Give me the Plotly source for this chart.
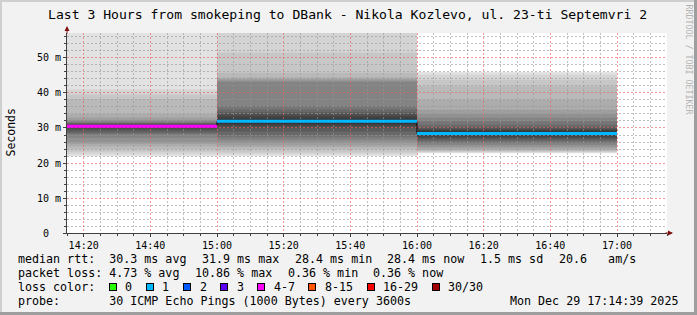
import plotly.graph_objects as go

# ---------------- data ----------------
seg_start = ["2025-12-29 14:00", "2025-12-29 15:00", "2025-12-29 16:00"]
seg_last_end = "2025-12-29 17:00"
seg_median = [30.5, 31.9, 28.4]
seg_loss_label = ["4-7", "1", "1"]

# sorted smoke ping values (ms) for each hourly step
seg1_pings = [21.9, 22.5, 23.2, 24.0, 24.8, 25.5, 26.0, 27.2, 28.2, 28.5,
              29.0, 29.6, 30.0, 30.3, 30.7, 30.85, 31.0, 31.2, 31.4, 31.6,
              31.9, 32.3, 33.0, 34.0, 38.2, 39.6, 41.0, 62.0]
seg2_pings = [22.0, 22.5, 23.0, 23.9, 24.5, 25.0, 25.8, 26.5, 27.2, 28.0,
              29.0, 30.1, 30.8, 31.3, 32.5, 33.3, 33.9, 34.5, 35.3, 36.3,
              43.2, 43.6, 44.0, 44.4, 45.8, 51.5, 60.0, 70.0]
seg3_pings = [22.8, 23.0, 23.2, 23.5, 23.8, 24.2, 24.7, 25.2, 25.7, 26.2,
              26.7, 27.1, 27.6, 28.2, 29.0, 29.4, 29.8, 30.3, 30.9, 31.9,
              32.9, 34.0, 35.2, 38.1, 41.9, 43.8, 45.2, 46.0]

loss_labels = ["0", "1", "2", "3", "4-7", "8-15", "16-29", "30/30"]
loss_colors = ["#26ff00", "#00b8ff", "#0059ff", "#5e00ff",
               "#ff00ff", "#ff5500", "#ff0000", "#a10000"]

y_tick_vals = [0, 10, 20, 30, 40, 50]
y_tick_text = ["0\u00a0\u00a0", "10 m", "20 m", "30 m", "40 m", "50 m"]

x_range = ["2025-12-29 14:15", "2025-12-29 17:15"]
y_range = [0, 57.14]

title_text = "Last 3 Hours from smokeping to DBank - Nikola Kozlevo, ul. 23-ti Septemvri 2"
legend_rtt = ["median rtt:  30.3 ms avg", "31.9 ms max", "28.4 ms min",
              "28.4 ms now", "1.5 ms sd", "20.6   am/s"]
legend_loss = ["packet loss: 4.73 % avg", "10.86 % max", "0.36 % min", "0.36 % now"]
legend_color_title = "loss color:"
probe_text = "probe:       30 ICMP Echo Pings (1000 Bytes) every 3600s"
stamp_text = "Mon Dec 29 17:14:39 2025"
watermark = "RRDTOOL / TOBI OETIKER"

# ---------------- geometry / style ----------------
W, H = 697, 315
ML, MR, MT, MB = 67, 30, 33, 82
PW, PH = W - ML - MR, H - MT - MB
MONO = "DejaVu Sans Mono"
LEG_FS = 11.66
CW = 0.602 * LEG_FS
GAP = 15.5
GRID = "rgba(150,150,150,0.6)"
MGRID = "rgba(230,100,100,0.65)"
GDASH = "2px,2px"
AXIS = "#404040"
ARROW = "#801010"


def PX(px):
    return (px - ML) / PW


def PY(py):
    return (MT + PH - py) / PH


def nb(s):
    return s.replace(" ", "\u00a0")


fig = go.Figure()

# smoke bands: outer (light) to inner (dark)
seg_pings = [seg1_pings, seg2_pings, seg3_pings]
n = len(seg1_pings)
half = n // 2
for i in range(half):
    g = int(190 / half * (half - (i + 1))) + 50
    bases = [p[i] for p in seg_pings]
    heights = [p[n - 1 - i] - p[i] for p in seg_pings]
    fig.add_trace(go.Bar(
        x=seg_start, y=heights, base=bases, width=[3600000] * 3, offset=0,
        marker=dict(color=f"rgb({g},{g},{g})", line=dict(width=0)),
        xaxis="x", yaxis="y", showlegend=False, hoverinfo="skip"))

# median line (on top subplot, above grid)
ends = seg_start[1:] + [seg_last_end]
fig.add_trace(go.Scatter(
    x=seg_start + [seg_last_end], y=seg_median + [seg_median[-1]],
    mode="lines", line=dict(color="#000000", width=1, shape="hv"),
    xaxis="x2", yaxis="y2", showlegend=False, hoverinfo="skip"))
for s in range(len(seg_start)):
    col = loss_colors[loss_labels.index(seg_loss_label[s])]
    fig.add_trace(go.Scatter(
        x=[seg_start[s], ends[s]], y=[seg_median[s]] * 2, mode="lines",
        line=dict(color=col, width=3), xaxis="x2", yaxis="y2",
        showlegend=False, hoverinfo="skip"))

tickfont = dict(family=MONO, size=10, color="#000000")

fig.update_layout(
    width=W, height=H,
    margin=dict(l=ML, r=MR, t=MT, b=MB, pad=0),
    paper_bgcolor="#f2f2f2", plot_bgcolor="rgba(0,0,0,0)",
    barmode="overlay", showlegend=False,
    xaxis=dict(type="date", range=x_range, domain=[0, 1], anchor="y",
               showgrid=False, zeroline=False, showline=True, linecolor=AXIS, linewidth=1,
               ticks="outside", ticklen=3, tickcolor=AXIS, tickwidth=1,
               dtick=1200000, tick0="2025-12-29 14:20", tickformat="%H:%M",
               tickfont=tickfont,
               minor=dict(dtick=300000, tick0="2025-12-29 14:15", ticks="outside",
                          ticklen=2, tickcolor=AXIS, showgrid=False)),
    yaxis=dict(range=y_range, domain=[0, 1], anchor="x",
               showgrid=False, zeroline=False, showline=True, linecolor=AXIS, linewidth=1,
               ticks="outside", ticklen=3, tickcolor=AXIS, tickwidth=1,
               tickvals=y_tick_vals, ticktext=y_tick_text, tickfont=tickfont,
               minor=dict(dtick=2, tick0=0, ticks="outside", ticklen=2,
                          tickcolor=AXIS, showgrid=False)),
    xaxis2=dict(type="date", range=x_range, domain=[0, 1], anchor="y2",
                showgrid=True, gridcolor=MGRID, gridwidth=1, griddash=GDASH,
                zeroline=False, showline=False, ticks="", showticklabels=False,
                dtick=1200000, tick0="2025-12-29 14:20",
                minor=dict(dtick=300000, tick0="2025-12-29 14:15", showgrid=True,
                           gridcolor=GRID, gridwidth=1, griddash=GDASH)),
    yaxis2=dict(range=y_range, domain=[0, 1], anchor="x2",
                showgrid=True, gridcolor=MGRID, gridwidth=1, griddash=GDASH,
                zeroline=False, showline=False, ticks="", showticklabels=False,
                dtick=10, tick0=0,
                minor=dict(dtick=2, tick0=0, showgrid=True, gridcolor=GRID,
                           gridwidth=1, griddash=GDASH)),
)

shapes = [
    # canvas
    dict(type="rect", xref="paper", yref="paper", x0=0, x1=1, y0=0, y1=1,
         fillcolor="#ffffff", line=dict(width=0), layer="below"),
    # 3D frame
    dict(type="rect", xref="paper", yref="paper", x0=PX(0), x1=PX(W), y0=PY(2), y1=PY(0),
         fillcolor="#cfcfcf", line=dict(width=0), layer="above"),
    dict(type="rect", xref="paper", yref="paper", x0=PX(0), x1=PX(2), y0=PY(H), y1=PY(0),
         fillcolor="#cfcfcf", line=dict(width=0), layer="above"),
    dict(type="rect", xref="paper", yref="paper", x0=PX(0), x1=PX(W), y0=PY(H), y1=PY(H - 3),
         fillcolor="#9e9e9e", line=dict(width=0), layer="above"),
    dict(type="rect", xref="paper", yref="paper", x0=PX(W - 3), x1=PX(W), y0=PY(H), y1=PY(0),
         fillcolor="#9e9e9e", line=dict(width=0), layer="above"),
]
fig.update_layout(shapes=shapes)

ann = []


def text_at(txt, px, py, size=LEG_FS, xanchor="left", color="#000000", angle=0):
    ann.append(dict(text=nb(txt), x=PX(px), y=PY(py), xref="paper", yref="paper",
                    xanchor=xanchor, yanchor="middle", showarrow=False, textangle=angle,
                    font=dict(family=MONO, size=size, color=color)))


text_at(title_text, 347, 14, size=13.1, xanchor="center")
text_at("Seconds", 10, 132.5, size=11.5, xanchor="center", angle=-90)
text_at(watermark, 688, 59.5, size=8.3, xanchor="center", color="#b4b4b4", angle=90)

# legend lines
x = 16
for piece in legend_rtt:
    text_at(piece, x, 259.3)
    x += len(piece) * CW + GAP
x = 16
for piece in legend_loss:
    text_at(piece, x, 273.3)
    x += len(piece) * CW + GAP
text_at(legend_color_title, 16, 287.3)
x = 16 + len(legend_color_title) * CW + GAP
for lab, col in zip(loss_labels, loss_colors):
    ann.append(dict(text=" ", x=PX(x), y=PY(286.8), xref="paper", yref="paper",
                    xanchor="left", yanchor="middle", showarrow=False,
                    width=6, height=6, bgcolor=col, bordercolor="#000000",
                    borderwidth=1, borderpad=0, font=dict(size=4)))
    text_at(lab, x + 14.6, 287.3)
    x += 14.6 + len(lab) * CW + GAP
text_at(probe_text, 16, 301)
text_at(stamp_text, 680, 301, xanchor="right")

# axis arrows
ann.append(dict(text="", x=1, y=0, xref="paper", yref="paper", xshift=6,
                showarrow=True, ax=-9, ay=0, arrowhead=2, arrowsize=1,
                arrowwidth=1, arrowcolor=ARROW))
ann.append(dict(text="", x=0, y=1, xref="paper", yref="paper", yshift=7,
                showarrow=True, ax=0, ay=9, arrowhead=2, arrowsize=1,
                arrowwidth=1, arrowcolor=ARROW))

fig.update_layout(annotations=ann)
fig.write_html("out.html")
